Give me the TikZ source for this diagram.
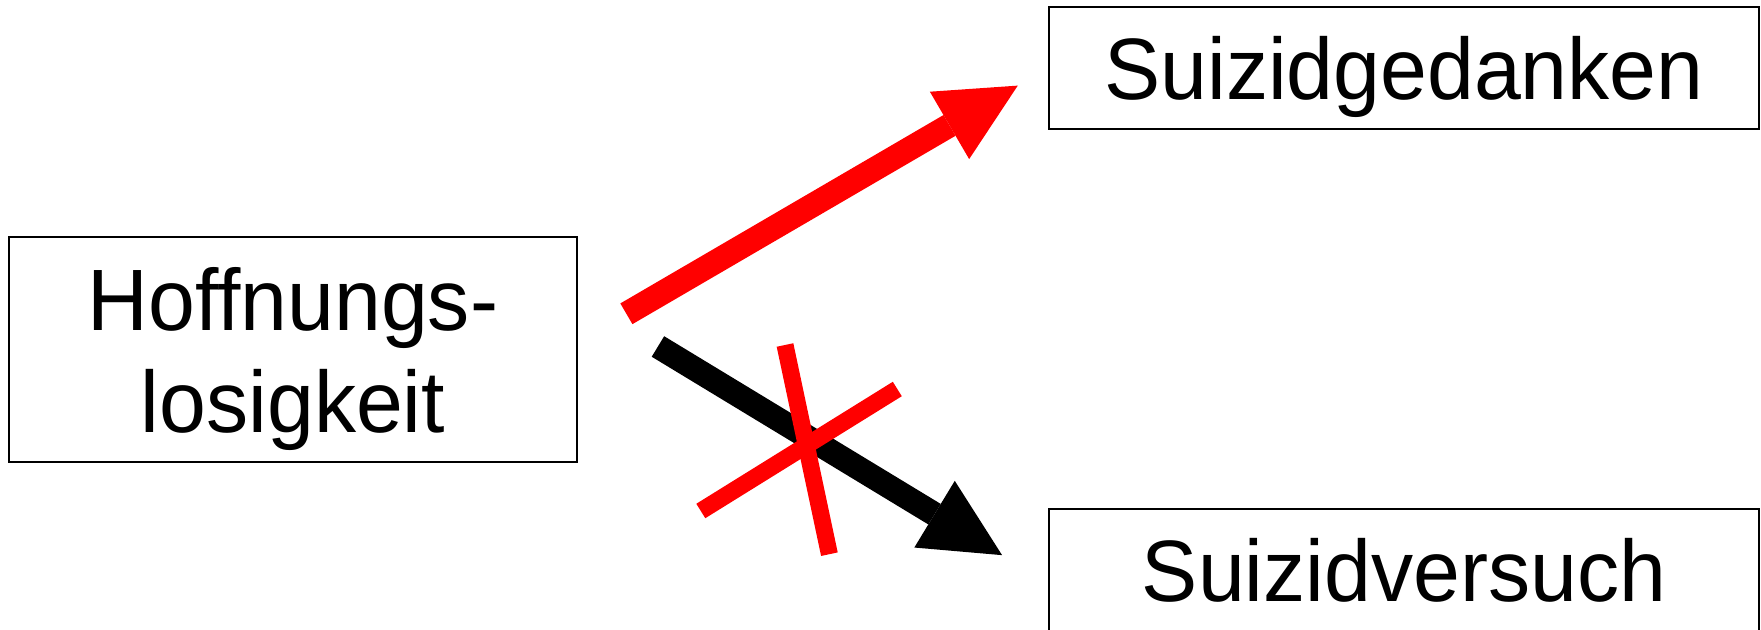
\documentclass[tikz,border=0pt]{standalone}
\usepackage{fontspec}
\setmainfont[FakeStretch = 0.966]{Liberation Sans}
\usetikzlibrary{positioning,calc}
\usetikzlibrary{arrows.meta}

\tikzset{
	kasten/.style = {draw, line width = 0.02cm, align = center, inner sep = 0pt,
		text depth = 0pt, font = \fontsize{24.8}{28.9}\selectfont},
	pfeil/.style = {line width = 0.24cm,
		-{Triangle[width = 0.78cm, length = 0.79cm, line width = 0pt]}},
	kreuz/.style = {red, line width = 0.17cm},
}

\begin{document}
\begin{tikzpicture}
\useasboundingbox (0, 0) rectangle (17.61, -6.30);

\node [kasten, minimum width = 5.68cm, minimum height = 2.25cm] (hoff) at (2.93, -3.50) {Hoffnungs-\\losigkeit};
\node [kasten, minimum width = 7.10cm, minimum height = 1.22cm] (gedanken) at (14.04, -0.68) {Suizidgedanken};
\node [kasten, minimum width = 7.10cm, minimum height = 1.22cm] (versuch) at (14.04, -5.70) {Suizidversuch};

\draw [pfeil, red, shorten <= 0.56cm, shorten >= 0.35cm] ([yshift = 0.08cm]hoff.east)  --  (gedanken.west);
\draw [pfeil, black, shorten <= 0.935cm, shorten >= 0.537cm] ([yshift = 0.52cm]hoff.east)  --  ([yshift = -0.13cm]versuch.west);

% durchgestrichen
\coordinate (nein) at (8.063, -4.455);
\draw [kreuz] (nein) ++(-0.213, 1.005)  --  ++(0.444, -2.092);
\draw [kreuz] (nein) ++(-1.055, -0.655)  --  ++(1.965, 1.220);

\end{tikzpicture}
\end{document}
